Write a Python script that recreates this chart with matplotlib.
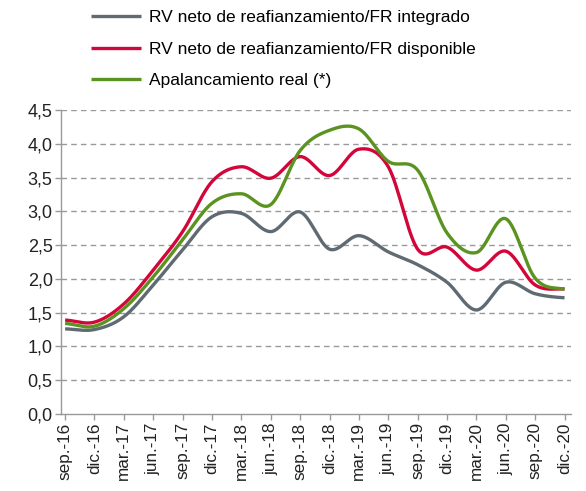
import numpy as np
import matplotlib
matplotlib.use("Agg")
import matplotlib.pyplot as plt

plt.rcParams['font.family'] = ['Liberation Sans', 'DejaVu Sans']

categories = ["sep.-16", "dic.-16", "mar.-17", "jun.-17", "sep.-17", "dic.-17",
              "mar.-18", "jun.-18", "sep.-18", "dic.-18", "mar.-19", "jun.-19",
              "sep.-19", "dic.-19", "mar.-20", "jun.-20", "sep.-20", "dic.-20"]

rv_integrado = [1.26, 1.25, 1.44, 1.91, 2.43, 2.92, 2.97, 2.70, 2.99, 2.44, 2.64, 2.40,
                2.21, 1.95, 1.54, 1.95, 1.78, 1.72]
rv_disponible = [1.39, 1.36, 1.63, 2.13, 2.70, 3.44, 3.66, 3.49, 3.81, 3.53, 3.92, 3.66,
                 2.44, 2.47, 2.13, 2.41, 1.91, 1.85]
apalancamiento = [1.34, 1.30, 1.56, 2.03, 2.58, 3.12, 3.26, 3.10, 3.90, 4.20, 4.22, 3.74,
                  3.61, 2.68, 2.39, 2.89, 2.01, 1.85]

labels = ["RV neto de reafianzamiento/FR integrado",
          "RV neto de reafianzamiento/FR disponible",
          "Apalancamiento real (*)"]
colors = ["#5f6a72", "#d2063a", "#5b9320"]


def catmull_rom(y, n=30):
    y = np.asarray(y, float)
    x = np.arange(len(y), dtype=float)
    P = np.concatenate([[y[0]], y, [y[-1]]])
    xs, ys = [], []
    for i in range(len(y) - 1):
        p0, p1, p2, p3 = P[i], P[i + 1], P[i + 2], P[i + 3]
        t = np.linspace(0, 1, n, endpoint=False)
        c1 = p1 + (p2 - p0) / 6
        c2 = p2 - (p3 - p1) / 6
        yy = ((1 - t) ** 3) * p1 + 3 * ((1 - t) ** 2) * t * c1 + 3 * (1 - t) * t ** 2 * c2 + t ** 3 * p2
        xs.append(x[i] + t)
        ys.append(yy)
    xs.append([x[-1]])
    ys.append([y[-1]])
    return np.concatenate(xs), np.concatenate(ys)


fig = plt.figure(figsize=(5.86, 4.91), dpi=100)
ax = fig.add_axes([61 / 586, 1 - 414 / 491, (571 - 61) / 586, (414 - 110) / 491])

handles = []
for data, lab, col in zip([rv_integrado, rv_disponible, apalancamiento], labels, colors):
    xs, ys = catmull_rom(data)
    h, = ax.plot(xs, ys, color=col, lw=2.4, solid_capstyle='butt', label=lab)
    handles.append(h)

ax.set_ylim(0, 4.5)
ax.set_xlim(-0.14, 17.22)
yt = np.arange(0, 4.51, 0.5)
ax.set_yticks(yt)
ax.set_yticklabels([f"{v:.1f}".replace('.', ',') for v in yt], fontsize=13, color='#222222')
ax.set_xticks(range(len(categories)))
ax.set_xticklabels(categories, rotation=90, fontsize=12.3, color='#222222')

for v in yt[1:]:
    ax.axhline(v, color='#999999', lw=1, ls=(0, (4, 3)), zorder=0)

for s in ['top', 'right']:
    ax.spines[s].set_visible(False)
for s in ['left', 'bottom']:
    ax.spines[s].set_color('#999999')
    ax.spines[s].set_linewidth(1)
ax.tick_params(axis='both', color='#999999', length=4, width=1, pad=2)

fig.legend(handles=handles, labels=labels, loc='upper left',
           bbox_to_anchor=(84 / 586, 1 - 3 / 491), frameon=False, fontsize=12.5,
           handlelength=2.9, handletextpad=0.45, labelspacing=0.95,
           borderaxespad=0)

fig.savefig("out.png", dpi=100)
